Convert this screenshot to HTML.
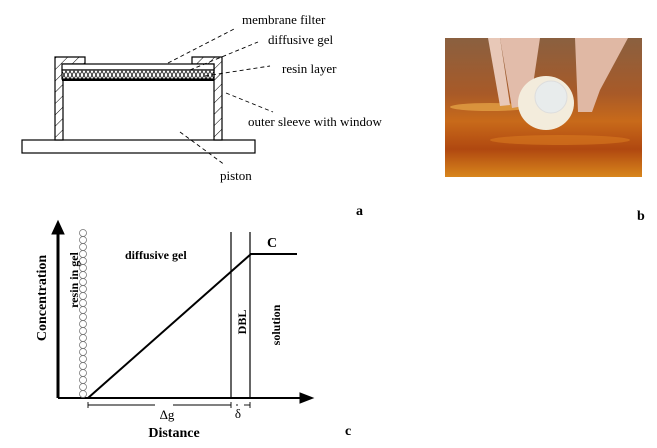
<!DOCTYPE html>
<html><head><meta charset="utf-8"><style>
html,body{margin:0;padding:0;background:#fff;}
svg{display:block;}
text{font-family:"Liberation Serif",serif;fill:#000;}
</style></head><body>
<svg width="657" height="448" viewBox="0 0 657 448" xmlns="http://www.w3.org/2000/svg">
<defs>
<pattern id="h" width="8" height="8" patternUnits="userSpaceOnUse" patternTransform="rotate(45)">
<rect width="8" height="8" fill="#fff"/><line x1="0" y1="0" x2="0" y2="8" stroke="#000" stroke-width="1"/>
</pattern>
<linearGradient id="sky" x1="0" y1="0" x2="0" y2="1">
<stop offset="0" stop-color="#8a6040"/><stop offset="0.4" stop-color="#a85a28"/>
<stop offset="0.6" stop-color="#c86a1a"/><stop offset="0.8" stop-color="#b04810"/><stop offset="1" stop-color="#d8861c"/>
</linearGradient>
</defs>

<!-- panel a -->
<g stroke="#000" stroke-width="1.2" fill="none">
<rect x="22" y="140" width="233" height="13" fill="#fff"/>
<path d="M55 140 V57 H85 V64 H63 V140 Z" fill="url(#h)"/>
<path d="M222 140 V57 H192 V64 H214 V140 Z" fill="url(#h)"/>
<rect x="62" y="64" width="152" height="6" fill="#fff"/>
<rect x="62" y="70" width="152" height="9" fill="#fff"/>
<path d="M62 79 L66 71 L70 79 L74 71 L78 79 L82 71 L86 79 L90 71 L94 79 L98 71 L102 79 L106 71 L110 79 L114 71 L118 79 L122 71 L126 79 L130 71 L134 79 L138 71 L142 79 L146 71 L150 79 L154 71 L158 79 L162 71 L166 79 L170 71 L174 79 L178 71 L182 79 L186 71 L190 79 L194 71 L198 79 L202 71 L206 79 L210 71 L214 79" stroke-width="0.8"/>
<path d="M62 71 L66 79 L70 71 L74 79 L78 71 L82 79 L86 71 L90 79 L94 71 L98 79 L102 71 L106 79 L110 71 L114 79 L118 71 L122 79 L126 71 L130 79 L134 71 L138 79 L142 71 L146 79 L150 71 L154 79 L158 71 L162 79 L166 71 L170 79 L174 71 L178 79 L182 71 L186 79 L190 71 L194 79 L198 71 L202 79 L206 71 L210 79 L214 71" stroke-width="0.8"/>
<line x1="62" y1="80" x2="214" y2="80" stroke-width="2"/>
<g stroke-dasharray="4,3" stroke-width="0.9">
<line x1="168" y1="63" x2="236" y2="28"/>
<line x1="190" y1="70" x2="258" y2="42"/>
<line x1="205" y1="76" x2="270" y2="66"/>
<line x1="226" y1="93" x2="273" y2="112"/>
<line x1="180" y1="132" x2="225" y2="165"/>
</g>
</g>
<g font-size="13">
<text x="242" y="24">membrane filter</text>
<text x="268" y="44">diffusive gel</text>
<text x="282" y="73">resin layer</text>
<text x="248" y="126">outer sleeve with window</text>
<text x="220" y="180">piston</text>
</g>
<text x="356" y="215" font-size="14" font-weight="bold">a</text>

<!-- panel b photo -->
<rect x="445" y="38" width="197" height="139" fill="url(#sky)"/>
<ellipse cx="490" cy="107" rx="40" ry="4" fill="#e8a848" opacity="0.7"/>
<ellipse cx="560" cy="140" rx="70" ry="5" fill="#d87a20" opacity="0.6"/>
<path d="M488 38 L500 38 L510 105 L500 106 Z" fill="#e8c8b8"/>
<path d="M500 38 L540 38 L530 105 L512 108 Z" fill="#e2bcaa"/>
<path d="M575 38 L628 38 L600 90 L592 112 L578 112 Z" fill="#e0b8a4"/>
<ellipse cx="546" cy="103" rx="28" ry="27" fill="#f3ecdc"/>
<circle cx="551" cy="97" r="16" fill="#e8ecec" stroke="#ddd"/>
<text x="637" y="220" font-size="14" font-weight="bold">b</text>

<!-- panel c -->
<g stroke="#000" fill="none">
<line x1="58" y1="398" x2="58" y2="232" stroke-width="3"/>
<path d="M52 234 L58 221 L64 234 Z" fill="#000"/>
<line x1="58" y1="398" x2="303" y2="398" stroke-width="2"/>
<path d="M300 393 L313 398 L300 403 Z" fill="#000"/>
<line x1="231" y1="232" x2="231" y2="398" stroke-width="1.2"/>
<line x1="250" y1="232" x2="250" y2="398" stroke-width="1.2"/>
<line x1="88" y1="398" x2="251" y2="254" stroke-width="2"/>
<line x1="250" y1="254" x2="297" y2="254" stroke-width="2"/>
<g stroke="#777" stroke-width="0.8">
<circle cx="83" cy="233" r="3.5"/><circle cx="83" cy="240" r="3.5"/><circle cx="83" cy="247" r="3.5"/><circle cx="83" cy="254" r="3.5"/><circle cx="83" cy="261" r="3.5"/><circle cx="83" cy="268" r="3.5"/><circle cx="83" cy="275" r="3.5"/><circle cx="83" cy="282" r="3.5"/><circle cx="83" cy="289" r="3.5"/><circle cx="83" cy="296" r="3.5"/><circle cx="83" cy="303" r="3.5"/><circle cx="83" cy="310" r="3.5"/><circle cx="83" cy="317" r="3.5"/><circle cx="83" cy="324" r="3.5"/><circle cx="83" cy="331" r="3.5"/><circle cx="83" cy="338" r="3.5"/><circle cx="83" cy="345" r="3.5"/><circle cx="83" cy="352" r="3.5"/><circle cx="83" cy="359" r="3.5"/><circle cx="83" cy="366" r="3.5"/><circle cx="83" cy="373" r="3.5"/><circle cx="83" cy="380" r="3.5"/><circle cx="83" cy="387" r="3.5"/><circle cx="83" cy="394" r="3.5"/>
</g>
<g stroke-width="0.9">
<line x1="88" y1="405" x2="155" y2="405"/><line x1="173" y1="405" x2="231" y2="405"/>
<line x1="236" y1="405" x2="238" y2="405"/><line x1="244" y1="405" x2="250" y2="405"/>
<line x1="88" y1="402" x2="88" y2="408"/><line x1="231" y1="402" x2="231" y2="408"/><line x1="250" y1="402" x2="250" y2="408"/>
</g>
</g>
<g font-weight="bold">
<text x="125" y="259" font-size="12">diffusive gel</text>
<text x="267" y="247" font-size="14">C</text>
<text transform="translate(46,298) rotate(-90)" font-size="14" text-anchor="middle">Concentration</text>
<text transform="translate(78,280) rotate(-90)" font-size="12" text-anchor="middle">resin in gel</text>
<text transform="translate(246,322) rotate(-90)" font-size="12" text-anchor="middle">DBL</text>
<text transform="translate(280,325) rotate(-90)" font-size="12" text-anchor="middle">solution</text>
<text x="174" y="437" font-size="14" text-anchor="middle">Distance</text>
<text x="345" y="435" font-size="14">c</text>
</g>
<text x="167" y="419" font-size="13" text-anchor="middle">Δg</text>
<text x="238" y="418" font-size="13" text-anchor="middle">δ</text>
</svg>
</body></html>
